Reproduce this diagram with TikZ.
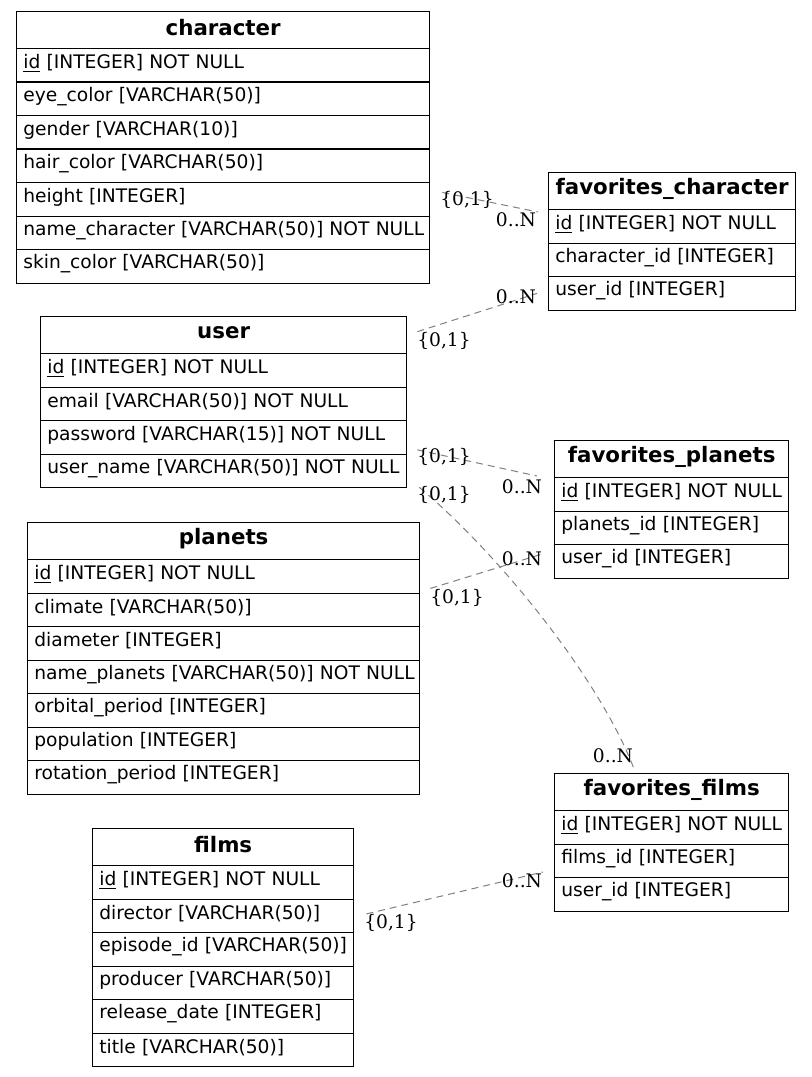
\documentclass[tikz,border=0pt]{standalone}
\usepackage{fontspec}
\setmainfont{DejaVu Serif}
\newfontfamily\dejavu{DejaVu Sans}
\usetikzlibrary{positioning}

\tikzset{
  tblhead/.style={draw, line width=1pt, anchor=north west, inner xsep=5pt, inner ysep=0pt,
    minimum height=27.75pt, text width=#1, align=center,
    font=\dejavu\bfseries\fontsize{16}{18}\selectfont},
  tblrow/.style={draw, line width=1pt, anchor=north west, inner xsep=5pt, inner ysep=0pt,
    minimum height=25.125pt, text width=#1, align=left,
    font=\dejavu\fontsize{14}{16}\selectfont},
  rel/.style={draw=gray, line width=0.75pt, dash pattern=on 5.25pt off 3.75pt},
  card/.style={inner sep=0pt, font=\fontsize{14}{16}\selectfont}
}
\newcommand{\rowtext}[1]{\raisebox{1.8pt}[\height][\depth]{\makebox[\linewidth][l]{#1}}}
\newcommand{\headtext}[1]{\raisebox{1.8pt}[\height][\depth]{#1}}

\begin{document}
\begin{tikzpicture}[x=0.75pt, y=-0.75pt]
\useasboundingbox (0,0) rectangle (811,1077);

% character
\node[tblhead=299.75pt] (char-h) at (16,11) {\headtext{character}};
\foreach \r [count=\i] in {\underline{id} [INTEGER] NOT NULL, eye\_color [VARCHAR(50)],
    gender [VARCHAR(10)], hair\_color [VARCHAR(50)], height [INTEGER],
    name\_character [VARCHAR(50)] NOT NULL, skin\_color [VARCHAR(50)]}
  \node[tblrow=299.75pt] (char-\i) at (16,{48+(\i-1)*33.5}) {\rowtext{\r}};

% favorites_character
\node[tblhead=175.25pt] (favchar-h) at (548,172) {\headtext{favorites\_character}};
\foreach \r [count=\i] in {\underline{id} [INTEGER] NOT NULL, character\_id [INTEGER],
    user\_id [INTEGER]}
  \node[tblrow=175.25pt] (favchar-\i) at (548,{209+(\i-1)*33.5}) {\rowtext{\r}};

% user
\node[tblhead=264.5pt] (user-h) at (40,316) {\headtext{user}};
\foreach \r [count=\i] in {\underline{id} [INTEGER] NOT NULL, email [VARCHAR(50)] NOT NULL,
    password [VARCHAR(15)] NOT NULL, user\_name [VARCHAR(50)] NOT NULL}
  \node[tblrow=264.5pt] (user-\i) at (40,{353+(\i-1)*33.5}) {\rowtext{\r}};

% favorites_planets
\node[tblhead=165.5pt] (favplan-h) at (554,440) {\headtext{favorites\_planets}};
\foreach \r [count=\i] in {\underline{id} [INTEGER] NOT NULL, planets\_id [INTEGER],
    user\_id [INTEGER]}
  \node[tblrow=165.5pt] (favplan-\i) at (554,{477+(\i-1)*33.5}) {\rowtext{\r}};

% planets
\node[tblhead=284pt] (plan-h) at (27,522) {\headtext{planets}};
\foreach \r [count=\i] in {\underline{id} [INTEGER] NOT NULL, climate [VARCHAR(50)],
    diameter [INTEGER], name\_planets [VARCHAR(50)] NOT NULL, orbital\_period [INTEGER],
    population [INTEGER], rotation\_period [INTEGER]}
  \node[tblrow=284pt] (plan-\i) at (27,{559+(\i-1)*33.5}) {\rowtext{\r}};

% favorites_films
\node[tblhead=165.5pt] (favfilm-h) at (554,773) {\headtext{favorites\_films}};
\foreach \r [count=\i] in {\underline{id} [INTEGER] NOT NULL, films\_id [INTEGER],
    user\_id [INTEGER]}
  \node[tblrow=165.5pt] (favfilm-\i) at (554,{810+(\i-1)*33.5}) {\rowtext{\r}};

% films
\node[tblhead=185.75pt] (film-h) at (92,828) {\headtext{films}};
\foreach \r [count=\i] in {\underline{id} [INTEGER] NOT NULL, director [VARCHAR(50)],
    episode\_id [VARCHAR(50)], producer [VARCHAR(50)], release\_date [INTEGER],
    title [VARCHAR(50)]}
  \node[tblrow=185.75pt] (film-\i) at (92,{865+(\i-1)*33.5}) {\rowtext{\r}};

% relations
\draw[rel] ([shift={(12,-7)}]char-5.east) -- ([shift={(-10,3)}]favchar-1.north west);
\draw[rel] ([shift={(10,-3.5)}]user-h.east) -- ([shift={(-11,0)}]favchar-3.west);
\draw[rel] ([shift={(10,-5)}]user-3.south east) -- ([shift={(-17,-1)}]favplan-1.north west);
\draw[rel] ([shift={(12,-1)}]user-4.south east) .. controls (500,555) and (600,680) .. ([shift={(-38,-5)}]favfilm-h.north);
\draw[rel] ([shift={(10,12)}]plan-1.east) -- ([shift={(-10,-8)}]favplan-3.west);
\draw[rel] ([shift={(12,-2)}]film-2.east) -- ([shift={(-11,-5)}]favfilm-3.north west);

% cardinalities
\node[card] (c1a) at (467,200) {\{0,1\}};
\node[card] (c1b) at (516,220) {0..N};
\node[card] (c2a) at (444,341) {\{0,1\}};
\node[card] (c2b) at (516,297) {0..N};
\node[card] (c3a) at (444,457) {\{0,1\}};
\node[card] (c3b) at (522,487) {0..N};
\node[card] (c4a) at (444,495) {\{0,1\}};
\node[card] (c4b) at (613,756) {0..N};
\node[card] (c5a) at (457,598) {\{0,1\}};
\node[card] (c5b) at (522,559) {0..N};
\node[card] (c6a) at (391,923) {\{0,1\}};
\node[card] (c6b) at (522,881) {0..N};

\end{tikzpicture}
\end{document}
